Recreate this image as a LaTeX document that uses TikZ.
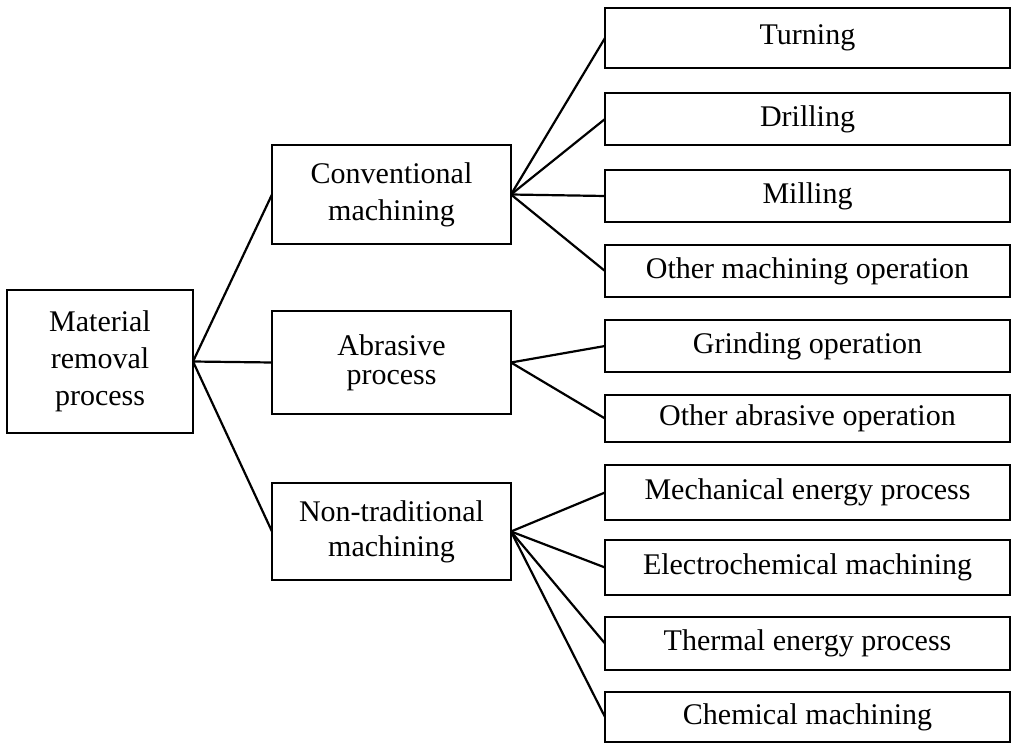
\documentclass[tikz,border=0pt]{standalone}
\usepackage{fontspec}
\setmainfont{Liberation Serif}
\begin{document}
\begin{tikzpicture}[x=1pt,y=-1pt,
  box/.style={draw, line width=1.3pt, inner sep=0pt, outer sep=0pt, align=center,
    font=\fontsize{30}{37}\selectfont},
  midbox/.style={box, minimum width=239pt},
  leafbox/.style={box, minimum width=405pt},
  link/.style={line width=2.2pt}]
\useasboundingbox (0,0) rectangle (1019,743);
% root
\node[box, minimum width=186pt, minimum height=143pt] (root) at (100,361.5) {Material\\removal\\process};
% middle level
\node[midbox, minimum height=99pt] (conv) at (391.5,194.5) {Conventional\\machining};
\node[midbox, minimum height=103pt, font=\fontsize{30}{29}\selectfont] (abr) at (391.5,362.5) {Abrasive\\process};
\node[midbox, minimum height=97pt, font=\fontsize{30}{35}\selectfont] (non) at (391.5,531.5) {Non-traditional\\machining};
% leaves
\node[leafbox, minimum height=60pt] (turn) at (807.5,38) {Turning};
\node[leafbox, minimum height=52pt] (drill) at (807.5,119) {Drilling};
\node[leafbox, minimum height=52pt] (mill) at (807.5,196) {Milling};
\node[leafbox, minimum height=52pt] (othm) at (807.5,271) {Other machining operation};
\node[leafbox, minimum height=52pt] (grind) at (807.5,346) {Grinding operation};
\node[leafbox, minimum height=47pt] (otha) at (807.5,418.5) {Other abrasive operation};
\node[leafbox, minimum height=55pt] (mech) at (807.5,492.5) {Mechanical energy process};
\node[leafbox, minimum height=55pt] (ecm) at (807.5,567.5) {Electrochemical machining};
\node[leafbox, minimum height=53pt] (therm) at (807.5,643.5) {Thermal energy process};
\node[leafbox, minimum height=50pt] (chem) at (807.5,717) {Chemical machining};
% connectors
\draw[link] (root.east) -- (conv.west);
\draw[link] (root.east) -- (abr.west);
\draw[link] (root.east) -- (non.west);
\foreach \t in {turn,drill,mill,othm} \draw[link] (conv.east) -- (\t.west);
\foreach \t in {grind,otha} \draw[link] (abr.east) -- (\t.west);
\foreach \t in {mech,ecm,therm,chem} \draw[link] (non.east) -- (\t.west);
\end{tikzpicture}
\end{document}
